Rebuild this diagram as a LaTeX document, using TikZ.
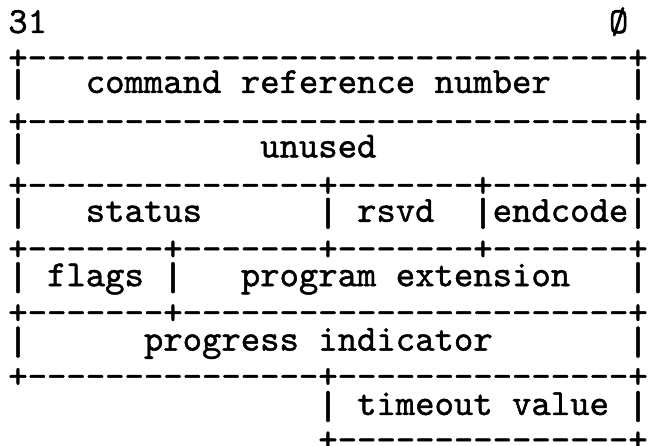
\documentclass[tikz,border=0pt]{standalone}
\usepackage{fontspec}
\usepackage{graphicx}
\newfontfamily\tw{lmmono10-regular}[Extension=.otf, FakeBold=1.2]
\newcommand\vbar{\resizebox{1.2\width}{31pt}{\raisebox{\depth}{|}}}
\tikzset{
  tt/.style={inner sep=0pt, outer sep=0pt, anchor=base west,
    font=\tw\fontsize{36.905pt}{36pt}\selectfont},
  bar/.style={tt, anchor=base},
}
\begin{document}
\begin{tikzpicture}[x=1pt,y=-1pt]
\useasboundingbox (0,0) rectangle (649,446);
% header
\node[tt] (b31) at ({8.31+19.375*0},33) {31};
\node[tt] (b0) at ({8.31+19.375*31},33) {Ø};
% border 1
\node[tt] (r1) at ({8.31+19.375*0},69.2) {+-------------------------------+};
\node[bar] (l2a) at ({18+19.375*0},100) {\vbar};
\node[tt] (crn) at ({8.31+19.375*4},93) {command reference number};
\node[bar] (l2b) at ({18+19.375*32},100) {\vbar};
% border 2
\node[tt] (r2) at ({8.31+19.375*0},132.9) {+-------------------------------+};
\node[bar] (l4a) at ({18+19.375*0},164.4) {\vbar};
\node[tt] (unused) at ({8.31+19.375*13},157.4) {unused};
\node[bar] (l4b) at ({18+19.375*32},164.4) {\vbar};
% border 3
\node[tt] (r3) at ({8.31+19.375*0},196.6) {+---------------+-------+-------+};
\node[bar] (l6a) at ({18+19.375*0},228.8) {\vbar};
\node[tt] (status) at ({8.31+19.375*4},221.8) {status};
\node[bar] (l6b) at ({18+19.375*16},228.8) {\vbar};
\node[tt] (rsvd) at ({8.31+19.375*18},221.8) {rsvd};
\node[bar] (l6c) at ({18+19.375*24},228.8) {\vbar};
\node[tt] (endcode) at ({8.31+19.375*25},221.8) {endcode};
\node[bar] (l6d) at ({18+19.375*32},228.8) {\vbar};
% border 4
\node[tt] (r4) at ({8.31+19.375*0},260.2) {+-------+-------+-------+-------+};
\node[bar] (l8a) at ({18+19.375*0},293.2) {\vbar};
\node[tt] (flags) at ({8.31+19.375*2},286.2) {flags};
\node[bar] (l8b) at ({18+19.375*8},293.2) {\vbar};
\node[tt] (progext) at ({8.31+19.375*12},286.2) {program extension};
\node[bar] (l8c) at ({18+19.375*32},293.2) {\vbar};
% border 5
\node[tt] (r5) at ({8.31+19.375*0},324) {+-------+-----------------------+};
\node[bar] (l10a) at ({18+19.375*0},357.6) {\vbar};
\node[tt] (progind) at ({8.31+19.375*7},350.6) {progress indicator};
\node[bar] (l10b) at ({18+19.375*32},357.6) {\vbar};
% border 6
\node[tt] (r6) at ({8.31+19.375*0},387.7) {+---------------+---------------+};
\node[bar] (l12a) at ({18+19.375*16},422) {\vbar};
\node[tt] (timeout) at ({8.31+19.375*18},415) {timeout value};
\node[bar] (l12b) at ({18+19.375*32},422) {\vbar};
% border 7
\node[tt] (r7) at ({8.31+19.375*16},451.2) {+---------------+};
\end{tikzpicture}
\end{document}
